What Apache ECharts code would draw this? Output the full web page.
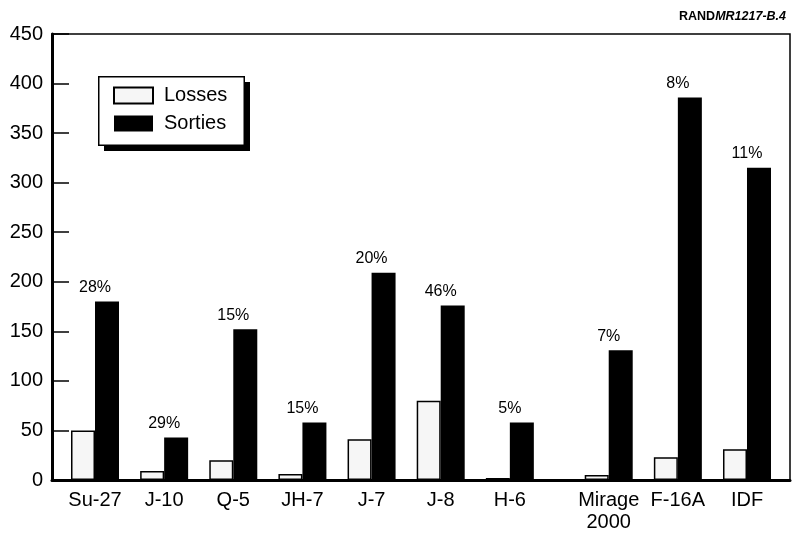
<!DOCTYPE html>
<html>
<head>
<meta charset="utf-8">
<script src="https://cdn.jsdelivr.net/npm/echarts@6/dist/echarts.min.js"></script>
<style>
html,body{margin:0;padding:0;background:#fff;}
#chart{width:794px;height:543px;}
</style>
</head>
<body>
<div id="chart"></div>
<script>
// ---- data ----
const categories = ['Su-27', 'J-10', 'Q-5', 'JH-7', 'J-7', 'J-8', 'H-6', 'Mirage\n2000', 'F-16A', 'IDF'];
const positions = [0, 1, 2, 3, 4, 5, 6, 7.43, 8.43, 9.43];
const losses = [50, 9, 20, 6, 41, 80, 2, 5, 23, 31];
const sorties = [180, 43, 152, 58, 209, 176, 58, 131, 386, 315];
const pctLabels = ['28%', '29%', '15%', '15%', '20%', '46%', '5%', '7%', '8%', '11%'];
const yMin = 0, yMax = 450, yStep = 50;

const FONT = "'Liberation Sans', Arial, Helvetica, sans-serif";

function catName(v) {
  for (let i = 0; i < positions.length; i++) {
    if (Math.abs(positions[i] - v) < 1e-6) return categories[i];
  }
  return '';
}

const chart = echarts.init(document.getElementById('chart'), null, {renderer: 'canvas'});
chart.setOption({
  backgroundColor: '#fff',
  animation: false,
  textStyle: {fontFamily: FONT},
  title: {
    text: '{a|RAND}{b|MR1217-B.4}',
    right: 3, top: 5,
    textStyle: {
      rich: {
        a: {fontFamily: FONT, fontWeight: 'bold', fontSize: 12.5, color: '#000'},
        b: {fontFamily: FONT, fontStyle: 'italic', fontSize: 12.5, color: '#000'}
      }
    }
  },
  graphic: [
    {type: 'rect', z: 3, shape: {x: 104, y: 82, width: 146, height: 69}, style: {fill: '#000'}},
    {type: 'rect', z: 3, shape: {x: 98.75, y: 76.75, width: 145.5, height: 68.5}, style: {fill: '#fff', stroke: '#000', lineWidth: 1.5}}
  ],
  legend: {
    data: ['Losses', 'Sorties'],
    orient: 'vertical',
    left: 98, top: 76, z: 6,
    itemWidth: 39, itemHeight: 16, itemGap: 8,
    padding: [9.5, 18, 11, 15],
    icon: 'rect',
    textStyle: {fontFamily: FONT, fontSize: 20, color: '#000', lineHeight: 20, padding: [0, 0, 0, 6]}
  },
  grid: {
    left: 52, right: 4, top: 34, bottom: 63,
    show: true, borderColor: '#000', borderWidth: 1.5, backgroundColor: 'transparent'
  },
  xAxis: {
    type: 'value',
    min: -0.622, max: 10.052,
    splitLine: {show: false},
    axisLine: {show: true, onZero: false, lineStyle: {color: '#000', width: 3}},
    axisTick: {show: false},
    axisLabel: {
      customValues: positions,
      formatter: catName,
      fontFamily: FONT, fontSize: 20, color: '#000', lineHeight: 22, margin: 9,
      showMinLabel: true, showMaxLabel: true
    }
  },
  yAxis: {
    type: 'value',
    min: yMin, max: yMax, interval: yStep,
    splitLine: {show: false},
    axisLine: {show: true, onZero: false, lineStyle: {color: '#000', width: 3}},
    axisTick: {show: true, inside: true, length: 17, lineStyle: {color: '#000', width: 1.5}},
    axisLabel: {fontFamily: FONT, fontSize: 20, color: '#000', margin: 9}
  },
  series: [
    {
      name: 'Losses',
      type: 'bar',
      barWidth: 24,
      barGap: '0%',
      data: positions.map((p, i) => [p, losses[i]]),
      itemStyle: {color: '#f6f6f6', borderColor: '#000', borderWidth: 1.5}
    },
    {
      name: 'Sorties',
      type: 'bar',
      barWidth: 24,
      barGap: '0%',
      data: positions.map((p, i) => [p, sorties[i]]),
      itemStyle: {color: '#000', borderColor: '#000', borderWidth: 0},
      label: {
        show: true, position: 'top', distance: 6, offset: [-12, 0],
        formatter: p => pctLabels[p.dataIndex],
        fontFamily: FONT, fontSize: 16, color: '#000'
      }
    }
  ]
});
</script>
</body>
</html>
